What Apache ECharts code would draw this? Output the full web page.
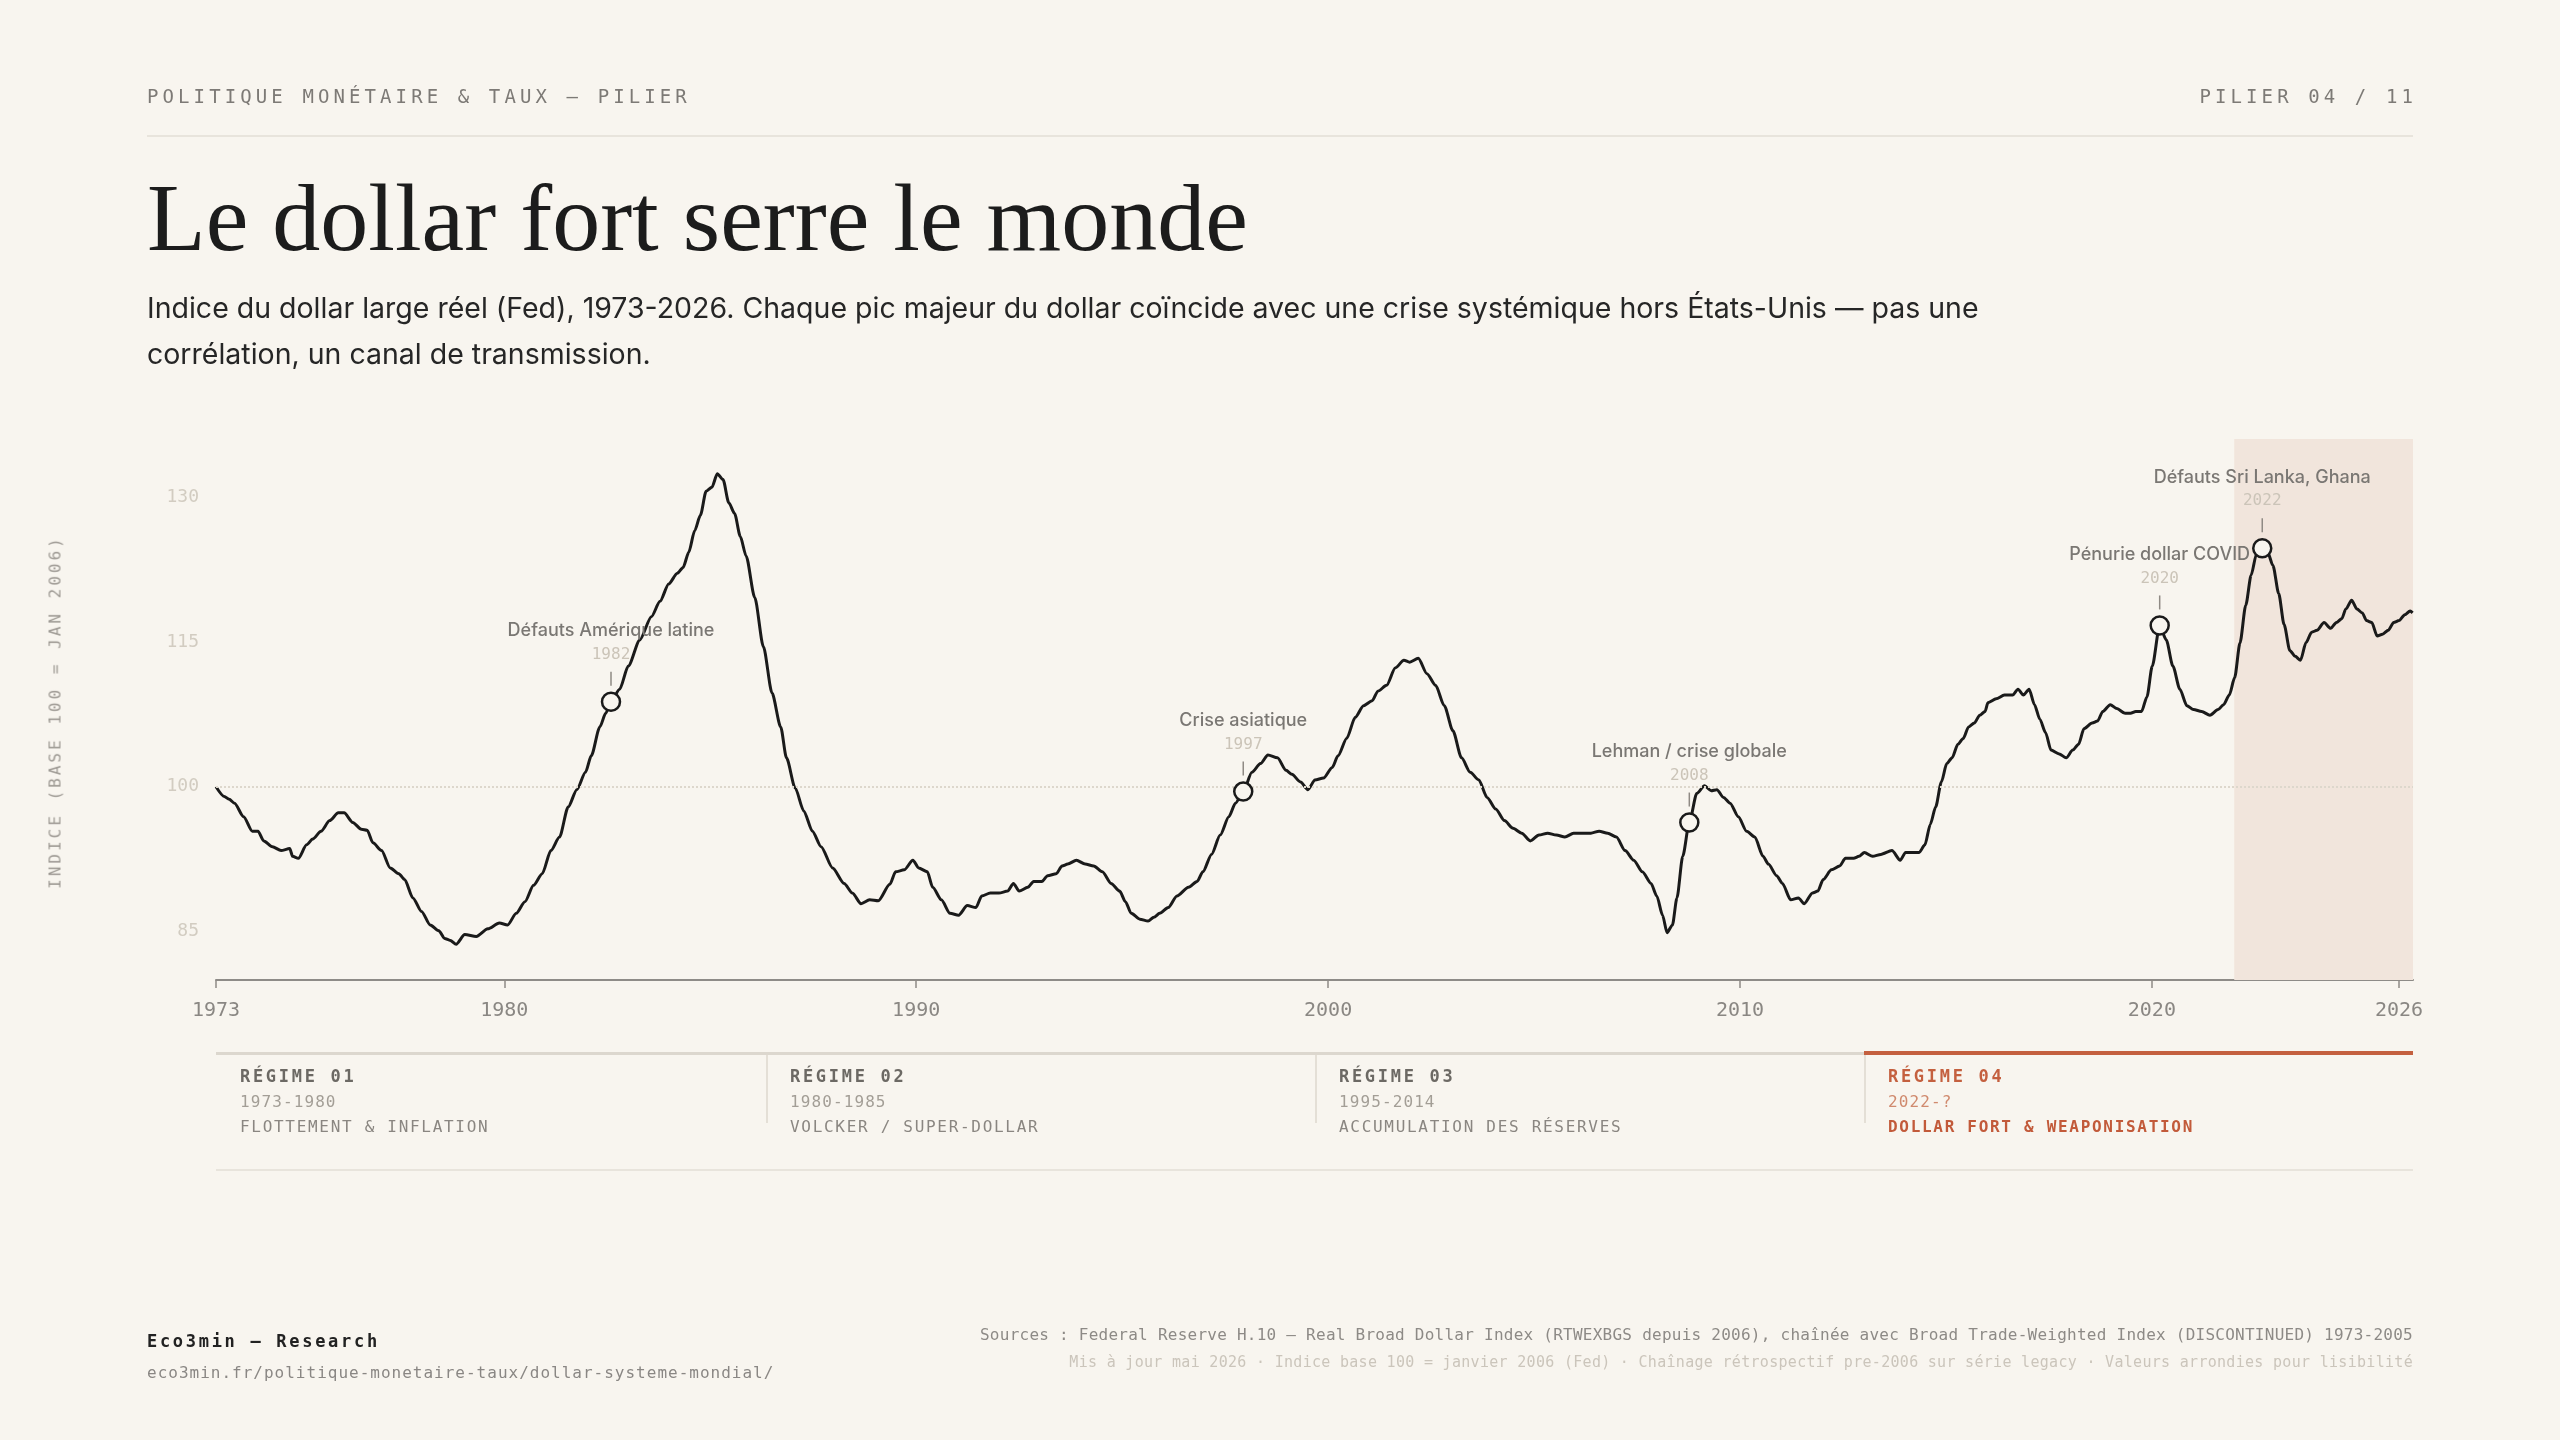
<!DOCTYPE html>
<html lang="fr">
<head>
<meta charset="utf-8">
<title>Le dollar fort serre le monde</title>
<script src="https://cdn.jsdelivr.net/npm/echarts@6/dist/echarts.min.js"></script>
<style>
  html, body { margin: 0; padding: 0; background: #f8f5ef; }
  #page { position: relative; width: 2560px; height: 1440px; overflow: hidden;
          font-family: "DejaVu Sans Mono", monospace; }
  #chart { position: absolute; left: 0; top: 0; width: 2560px; height: 1440px; }
  .abs { position: absolute; white-space: nowrap; line-height: 1.2; }
  .kicker { top: 85px; font-size: 19px; letter-spacing: 4.1px; color: #7d7a76; }
  .rule { position: absolute; }
  #title { position: absolute; left: 147px; top: 170px; font-family: "Liberation Serif", serif;
           font-size: 96px; line-height: 1; color: #1c1c1c; white-space: nowrap; }
  #subtitle { position: absolute; left: 147px; top: 285px; width: 1900px; font-family: Inter, sans-serif;
              font-size: 28.5px; line-height: 46px; color: #262626; }
  #yname { position: absolute; left: 55px; top: 712px; transform: translate(-50%, -50%) rotate(-90deg);
           white-space: nowrap; font-size: 16px; letter-spacing: 3px; color: #9c9892; }
  .reg-t { font-size: 17px; font-weight: bold; letter-spacing: 2.7px; color: #6c6964; }
  .reg-d { font-size: 16px; letter-spacing: 1.1px; color: #a39e96; }
  .reg-n { font-size: 16px; letter-spacing: 1.7px; color: #8a8681; }
  .hot.reg-t { color: #c4603f; }
  .hot.reg-d { color: #d08a6e; }
  .hot.reg-n { color: #c25a3a; font-weight: bold; }
</style>
</head>
<body>
<div id="page">
  <div id="chart"></div>

  <div class="abs kicker" style="left:147px;">POLITIQUE MONÉTAIRE &amp; TAUX — PILIER</div>
  <div class="abs kicker" style="right:143px;">PILIER 04 / 11</div>
  <div class="rule" style="left:147px; top:135px; width:2266px; height:2px; background:#e8e4dc;"></div>

  <div id="title">Le dollar fort serre le monde</div>
  <div id="subtitle">Indice du dollar large réel (Fed), 1973-2026. Chaque pic majeur du dollar coïncide avec une crise systémique hors États-Unis — pas une corrélation, un canal de transmission.</div>

  <div id="yname">INDICE (BASE 100 = JAN 2006)</div>

  <!-- régimes -->
  <div class="rule" style="left:216px; top:1052px; width:2197px; height:3px; background:#dcd7ce;"></div>
  <div class="rule" style="left:1864px; top:1051px; width:549px; height:4px; background:#c4603f;"></div>
  <div class="rule" style="left:766px; top:1055px; width:2px; height:68px; background:#e4dfd6;"></div>
  <div class="rule" style="left:1315px; top:1055px; width:2px; height:68px; background:#e4dfd6;"></div>
  <div class="rule" style="left:1864px; top:1055px; width:2px; height:68px; background:#e4dfd6;"></div>
  <div class="rule" style="left:216px; top:1169px; width:2197px; height:2px; background:#e8e4dc;"></div>

  <div class="abs reg-t" style="left:240px; top:1066px;">RÉGIME 01</div>
  <div class="abs reg-d" style="left:240px; top:1092px;">1973-1980</div>
  <div class="abs reg-n" style="left:240px; top:1117px;">FLOTTEMENT &amp; INFLATION</div>

  <div class="abs reg-t" style="left:790px; top:1066px;">RÉGIME 02</div>
  <div class="abs reg-d" style="left:790px; top:1092px;">1980-1985</div>
  <div class="abs reg-n" style="left:790px; top:1117px;">VOLCKER / SUPER-DOLLAR</div>

  <div class="abs reg-t" style="left:1339px; top:1066px;">RÉGIME 03</div>
  <div class="abs reg-d" style="left:1339px; top:1092px;">1995-2014</div>
  <div class="abs reg-n" style="left:1339px; top:1117px;">ACCUMULATION DES RÉSERVES</div>

  <div class="abs reg-t hot" style="left:1888px; top:1066px;">RÉGIME 04</div>
  <div class="abs reg-d hot" style="left:1888px; top:1092px;">2022-?</div>
  <div class="abs reg-n hot" style="left:1888px; top:1117px;">DOLLAR FORT &amp; WEAPONISATION</div>

  <!-- pied de page -->
  <div class="abs" style="left:147px; top:1331px; font-size:17px; font-weight:bold; letter-spacing:2.7px; color:#222;">Eco3min — Research</div>
  <div class="abs" style="left:147px; top:1363px; font-size:16px; letter-spacing:1px; color:#8a8784;">eco3min.fr/politique-monetaire-taux/dollar-systeme-mondial/</div>
  <div class="abs" style="right:147px; top:1325px; font-size:16px; letter-spacing:0.25px; color:#8d8a86;">Sources : Federal Reserve H.10 — Real Broad Dollar Index (RTWEXBGS depuis 2006), chaînée avec Broad Trade-Weighted Index (DISCONTINUED) 1973-2005</div>
  <div class="abs" style="right:147px; top:1353px; font-size:15px; letter-spacing:0.3px; color:#cbc5bb;">Mis à jour mai 2026 · Indice base 100 = janvier 2006 (Fed) · Chaînage rétrospectif pre-2006 sur série legacy · Valeurs arrondies pour lisibilité</div>
</div>

<script>
// indice du dollar large réel, base 100 = janv. 2006
var dates = [
  1973.00, 1973.20, 1973.32, 1973.45, 1973.67, 1973.88, 1974.02, 1974.16, 1974.37, 1974.58,
  1974.79, 1974.86, 1975.00, 1975.20, 1975.35, 1975.55, 1975.76, 1975.97, 1976.11, 1976.32,
  1976.53, 1976.67, 1976.81, 1977.02, 1977.23, 1977.44, 1977.58, 1977.78, 1977.99, 1978.20,
  1978.41, 1978.55, 1978.69, 1978.83, 1979.04, 1979.32, 1979.60, 1979.88, 1980.08, 1980.29,
  1980.50, 1980.71, 1980.92, 1981.13, 1981.34, 1981.55, 1981.76, 1981.97, 1982.11, 1982.32,
  1982.46, 1982.59, 1982.80, 1983.01, 1983.29, 1983.57, 1983.78, 1983.99, 1984.20, 1984.34,
  1984.48, 1984.62, 1984.76, 1984.90, 1985.04, 1985.17, 1985.31, 1985.45, 1985.59, 1985.73,
  1985.87, 1986.08, 1986.29, 1986.50, 1986.71, 1986.85, 1987.06, 1987.27, 1987.48, 1987.69,
  1987.97, 1988.25, 1988.45, 1988.66, 1988.87, 1989.08, 1989.36, 1989.50, 1989.71, 1989.92,
  1990.06, 1990.27, 1990.40, 1990.61, 1990.82, 1991.03, 1991.24, 1991.45, 1991.59, 1991.80,
  1992.01, 1992.22, 1992.36, 1992.50, 1992.71, 1992.85, 1993.05, 1993.19, 1993.40, 1993.54,
  1993.68, 1993.89, 1994.10, 1994.31, 1994.52, 1994.73, 1994.94, 1995.08, 1995.22, 1995.43,
  1995.63, 1995.77, 1995.91, 1996.12, 1996.33, 1996.61, 1996.82, 1996.96, 1997.17, 1997.38,
  1997.59, 1997.75, 1997.94, 1998.15, 1998.36, 1998.54, 1998.77, 1998.98, 1999.12, 1999.33,
  1999.51, 1999.68, 1999.89, 2000.10, 2000.24, 2000.45, 2000.66, 2000.86, 2001.07, 2001.21,
  2001.42, 2001.63, 2001.84, 2001.98, 2002.19, 2002.40, 2002.61, 2002.82, 2003.03, 2003.24,
  2003.45, 2003.66, 2003.86, 2004.07, 2004.28, 2004.49, 2004.70, 2004.91, 2005.12, 2005.33,
  2005.54, 2005.75, 2005.96, 2006.17, 2006.38, 2006.58, 2006.79, 2007.00, 2007.21, 2007.42,
  2007.63, 2007.84, 2007.98, 2008.12, 2008.23, 2008.36, 2008.47, 2008.61, 2008.77, 2008.95,
  2009.14, 2009.30, 2009.44, 2009.60, 2009.76, 2009.96, 2010.16, 2010.36, 2010.56, 2010.69,
  2010.89, 2011.03, 2011.23, 2011.42, 2011.56, 2011.76, 2011.89, 2012.02, 2012.22, 2012.42,
  2012.56, 2012.76, 2012.89, 2013.02, 2013.22, 2013.42, 2013.69, 2013.89, 2014.02, 2014.22,
  2014.35, 2014.49, 2014.62, 2014.75, 2014.89, 2015.02, 2015.15, 2015.29, 2015.42, 2015.55,
  2015.69, 2015.82, 2015.95, 2016.02, 2016.22, 2016.42, 2016.62, 2016.75, 2016.88, 2017.02,
  2017.15, 2017.28, 2017.42, 2017.55, 2017.75, 2017.92, 2018.08, 2018.22, 2018.35, 2018.55,
  2018.68, 2018.81, 2018.99, 2019.15, 2019.35, 2019.48, 2019.61, 2019.75, 2019.88, 2020.01,
  2020.19, 2020.35, 2020.51, 2020.68, 2020.85, 2021.01, 2021.21, 2021.41, 2021.61, 2021.74,
  2021.88, 2022.01, 2022.14, 2022.28, 2022.41, 2022.54, 2022.68, 2022.81, 2022.94, 2023.08,
  2023.21, 2023.35, 2023.48, 2023.61, 2023.74, 2023.88, 2024.01, 2024.18, 2024.34, 2024.48,
  2024.61, 2024.71, 2024.85, 2024.98, 2025.11, 2025.21, 2025.34, 2025.47, 2025.60, 2025.74,
  2025.87, 2026.00, 2026.14, 2026.27, 2026.33
];
var index = [
  100.0, 99.0, 98.7, 98.3, 96.9, 95.4, 95.4, 94.4, 93.8, 93.4,
  93.6, 92.8, 92.6, 94.0, 94.6, 95.4, 96.5, 97.3, 97.3, 96.3,
  95.6, 95.5, 94.2, 93.4, 91.6, 91.0, 90.4, 88.5, 87.1, 85.7,
  85.1, 84.3, 84.1, 83.7, 84.7, 84.5, 85.3, 85.9, 85.7, 86.9,
  88.1, 89.8, 91.0, 93.4, 94.8, 97.9, 99.7, 101.5, 103.2, 106.2,
  107.6, 108.8, 110.1, 112.5, 115.2, 117.6, 119.2, 121.0, 122.1, 122.7,
  124.3, 126.5, 128.1, 130.6, 131.0, 132.4, 131.8, 129.4, 128.3, 125.9,
  123.9, 119.6, 114.5, 109.7, 106.2, 103.0, 99.9, 97.5, 95.4, 93.8,
  91.6, 90.0, 89.0, 87.9, 88.3, 88.2, 89.9, 91.2, 91.4, 92.4,
  91.6, 91.2, 89.6, 88.3, 86.9, 86.7, 87.7, 87.5, 88.7, 89.0,
  89.0, 89.2, 90.0, 89.2, 89.6, 90.2, 90.2, 90.8, 91.0, 91.8,
  92.0, 92.4, 92.0, 91.8, 91.2, 90.0, 89.2, 88.1, 86.9, 86.3,
  86.1, 86.5, 86.9, 87.5, 88.7, 89.6, 90.2, 91.2, 93.0, 95.0,
  96.9, 98.3, 99.5, 101.5, 102.4, 103.3, 103.0, 101.7, 101.3, 100.5,
  99.7, 100.7, 100.9, 102.0, 103.2, 105.0, 107.2, 108.4, 108.9, 109.9,
  110.5, 112.3, 113.1, 112.9, 113.3, 111.7, 110.5, 108.4, 105.8, 103.0,
  101.5, 100.7, 98.9, 97.7, 96.5, 95.7, 95.2, 94.4, 95.0, 95.2,
  95.0, 94.8, 95.2, 95.2, 95.2, 95.4, 95.2, 94.8, 93.4, 92.4,
  91.2, 90.0, 88.7, 86.7, 84.9, 85.7, 88.5, 92.8, 96.3, 99.3,
  100.1, 99.6, 99.7, 98.9, 98.3, 96.9, 95.4, 94.8, 92.8, 92.0,
  90.8, 90.0, 88.3, 88.5, 87.9, 89.0, 89.2, 90.4, 91.4, 91.8,
  92.6, 92.6, 92.8, 93.2, 92.8, 93.0, 93.4, 92.4, 93.2, 93.2,
  93.2, 94.0, 96.1, 97.9, 100.5, 102.4, 103.0, 104.4, 105.0, 106.2,
  106.6, 107.4, 107.8, 108.7, 109.1, 109.5, 109.5, 110.1, 109.5, 110.1,
  108.5, 107.0, 105.6, 103.8, 103.4, 103.0, 103.8, 104.4, 106.0, 106.6,
  106.8, 107.8, 108.5, 108.1, 107.6, 107.6, 107.8, 107.8, 109.3, 112.5,
  116.7, 115.2, 112.5, 110.1, 108.4, 108.0, 107.8, 107.4, 108.0, 108.5,
  109.5, 111.3, 114.9, 118.8, 121.9, 124.1, 124.7, 124.3, 122.9, 120.0,
  116.8, 114.1, 113.5, 113.1, 114.9, 116.0, 116.2, 117.0, 116.4, 117.0,
  117.4, 118.4, 119.3, 118.4, 118.0, 117.2, 117.0, 115.6, 115.8, 116.2,
  117.0, 117.2, 117.8, 118.2, 118.0
];

// crises annotées
var eventDates = [1982.59, 1997.94, 2008.77, 2020.19, 2022.68];
var eventValues = [108.8, 99.5, 96.3, 116.7, 124.7];
var eventLabels = ['Défauts Amérique latine', 'Crise asiatique', 'Lehman / crise globale', 'Pénurie dollar COVID', 'Défauts Sri Lanka, Ghana'];
var eventYears = ['1982', '1997', '2008', '2020', '2022'];

var xTicks = [1973, 1980, 1990, 2000, 2010, 2020, 2026];
var yTicks = [85, 100, 115, 130];
var regimeStart = 2022;
var xMin = 1973, xMax = 2026.34;
var yMin = 80, yMax = 136;

var MONO = '"DejaVu Sans Mono", monospace';
var BG = '#f8f5ef';

var lineData = dates.map(function (d, i) { return [d, index[i]]; });
var eventData = eventDates.map(function (d, i) { return [d, eventValues[i], i]; });

function renderEvent(params, api) {
  var p = api.coord([api.value(0), api.value(1)]);
  var i = api.value(2);
  return {
    type: 'group',
    children: [
      { type: 'line', shape: { x1: p[0], y1: p[1] - 30, x2: p[0], y2: p[1] - 16 },
        style: { stroke: '#8f8a84', lineWidth: 1.5 } },
      { type: 'circle', shape: { cx: p[0], cy: p[1], r: 9 },
        style: { fill: BG, stroke: '#1a1a1a', lineWidth: 2.5 } },
      { type: 'text', style: { x: p[0], y: p[1] - 47, text: eventYears[i], fill: '#cbc4b8',
        font: '16px ' + MONO, align: 'center', verticalAlign: 'middle',
        textAlign: 'center', textVerticalAlign: 'middle' } },
      { type: 'text', style: { x: p[0], y: p[1] - 71, text: eventLabels[i], fill: '#7a7773',
        font: '500 18px Inter', align: 'center', verticalAlign: 'middle',
        textAlign: 'center', textVerticalAlign: 'middle' } }
    ]
  };
}

var myChart = echarts.init(document.getElementById('chart'));

var option = {
  animation: false,
  grid: { left: 216, right: 147, top: 439, bottom: 460 },
  xAxis: {
    type: 'value',
    min: xMin,
    max: xMax,
    splitLine: { show: false },
    axisLine: { show: true, lineStyle: { color: '#8e8b87', width: 2 } },
    axisTick: { show: true, length: 8, customValues: xTicks, lineStyle: { color: '#8e8b87', width: 1.5 } },
    axisLabel: { customValues: xTicks, margin: 21, fontFamily: MONO, fontSize: 20, color: '#8a8783',
      formatter: function (v) { return String(Math.round(v)); } }
  },
  yAxis: {
    type: 'value',
    min: yMin,
    max: yMax,
    splitLine: { show: false },
    axisLine: { show: false },
    axisTick: { show: false },
    axisLabel: { customValues: yTicks, margin: 17, fontFamily: MONO, fontSize: 18,
      color: function (v) { return v === 100 ? '#aaa49b' : '#d2ccc1'; } }
  },
  series: [
    {
      type: 'line',
      data: lineData,
      symbol: 'none',
      smooth: 0.25,
      smoothMonotone: 'x',
      lineStyle: { color: '#1a1a1a', width: 3 },
      z: 3,
      markArea: {
        silent: true,
        itemStyle: { color: '#f1e5dc' },
        data: [[{ xAxis: regimeStart }, { xAxis: xMax }]]
      },
      markLine: {
        silent: true,
        symbol: ['none', 'none'],
        label: { show: false },
        lineStyle: { type: 'dotted', color: '#ddd7cc', width: 2 },
        data: [{ yAxis: 100 }]
      }
    },
    {
      type: 'custom',
      data: eventData,
      renderItem: renderEvent,
      clip: false,
      z: 5
    }
  ]
};

myChart.setOption(option);
</script>
</body>
</html>
